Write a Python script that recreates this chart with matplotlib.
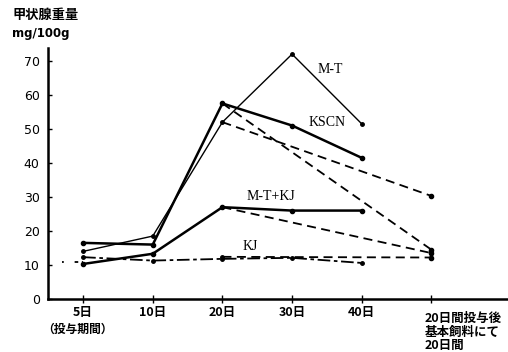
import matplotlib
matplotlib.use("Agg")
import matplotlib.pyplot as plt

# ---- data ----
stages = ["5日", "10日", "20日", "30日", "40日"]
final_label = "20日間投与後\n基本飼料にて\n20日間"
stage_pos = [1, 2, 3, 4, 5]
final_pos = 6

mt = [14.0, 18.5, 52.0, 72.0, 51.5]
kscn = [16.5, 16.0, 57.5, 51.0, 41.5]
mtkj = [10.3, 13.3, 27.0, 26.0, 26.0]
kj = [12.3, 11.3, 11.8, 12.1, 10.6]

# recovery (after 20 days dosing then basal diet 20 days)
mt_rec = [52.0, 30.3]
kscn_rec = [57.5, 14.5]
mtkj_rec = [27.0, 13.5]
kj_rec = [12.4, 12.2]

yticks = [0, 10, 20, 30, 40, 50, 60, 70]

jp = ["Noto Sans CJK JP", "DejaVu Sans"]
serif = "Liberation Serif"

fig = plt.figure(figsize=(5.08, 3.52), dpi=100)
ax = fig.add_axes([48 / 508, 53 / 352, 1 - 48 / 508, 251 / 352])

lc = "black"
ax.plot(stage_pos, mt, color=lc, lw=1.0, marker="o", ms=2.5)
ax.plot(stage_pos, kscn, color=lc, lw=1.8, marker="o", ms=3)
ax.plot(stage_pos, mtkj, color=lc, lw=1.8, marker="o", ms=3)
ax.plot(stage_pos, kj, color=lc, lw=1.3, marker="o", ms=2.5, dashes=(7, 2, 2, 2))
ax.plot([0.7, 1], [10.8, 10.8], color=lc, lw=1.3, dashes=(1, 6, 2, 2))

rec_x = [3, final_pos]
for vals in (mt_rec, kscn_rec, mtkj_rec, kj_rec):
    ax.plot(rec_x, vals, color=lc, lw=1.3, dashes=(5, 3), marker="o", ms=3,
            markevery=[1])
ax.plot([3], [kj_rec[0]], color=lc, marker="o", ms=2.5)
ax.plot([final_pos, final_pos], [kj_rec[1], kscn_rec[1]], color=lc, lw=2.5)

ax.set_xlim(0.496, 7.1)
ax.set_ylim(0, 73.8)

for s in ("top", "right"):
    ax.spines[s].set_visible(False)
ax.spines["left"].set_linewidth(1.8)
ax.spines["bottom"].set_linewidth(1.8)

ax.set_yticks(yticks)
ax.set_yticklabels([str(v) for v in yticks], fontsize=9, family="DejaVu Sans")
ax.tick_params(axis="y", direction="in", length=3, width=1, pad=6)
ax.set_xticks(stage_pos + [final_pos])
ax.set_xticklabels([])
ax.tick_params(axis="x", direction="inout", length=6, width=1)

# x labels
for p, s in zip(stage_pos, stages):
    ax.text(p, -3.9, s, ha="center", va="center", fontsize=9, family=jp,
            fontweight="bold")
ax.text(0.92, -8.9, "（投与期間）", ha="center", va="center", fontsize=8.5,
        family=jp, fontweight="bold")
ax.text(5.9, -3.9, final_label, ha="left", va="top", fontsize=9, family=jp,
        fontweight="bold", linespacing=1.05)

# y label
fig.text(13 / 508, 1 - 15 / 352, "甲状腺重量", ha="left", va="center", fontsize=9.5,
         family=jp, fontweight="bold")
fig.text(12 / 508, 1 - 33 / 352, "mg/100g", ha="left", va="center", fontsize=8.5,
         family="DejaVu Sans", fontweight="bold")

# series labels
ax.text(4.55, 67.6, "M-T", ha="center", va="center", fontsize=10, family=serif)
ax.text(4.5, 51.9, "KSCN", ha="center", va="center", fontsize=10, family=serif)
ax.text(3.7, 30.0, "M-T+KJ", ha="center", va="center", fontsize=10, family=serif)
ax.text(3.4, 15.5, "KJ", ha="center", va="center", fontsize=10, family=serif)

fig.savefig("out.png", dpi=100)
